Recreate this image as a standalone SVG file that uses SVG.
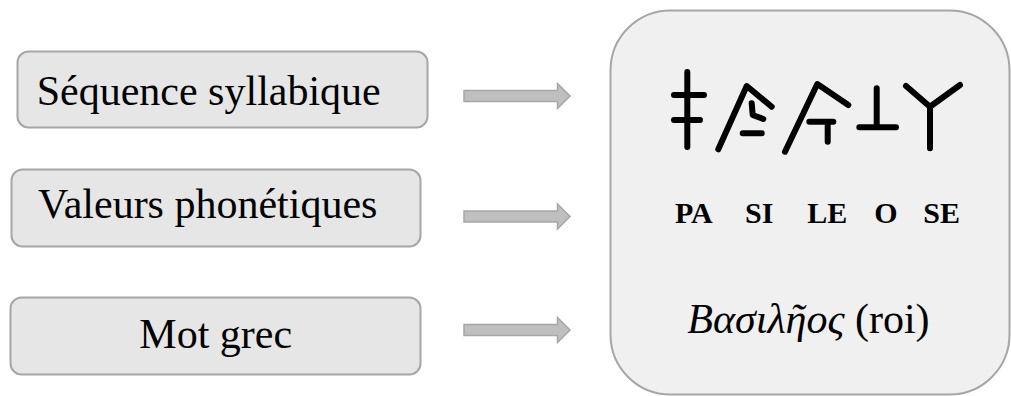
<svg xmlns="http://www.w3.org/2000/svg" width="1011" height="396" viewBox="0 0 1011 396">
<defs>
<style>
.box{fill:#e6e6e6;stroke:#a6a6a6;stroke-width:2}
.big{fill:#f0f0f0;stroke:#a6a6a6;stroke-width:2}
.lbl{font-family:"Liberation Serif","Times New Roman","DejaVu Serif",serif;font-size:42px;fill:#000}
.syl{font-family:"Liberation Serif","Times New Roman","DejaVu Serif",serif;font-size:30px;font-weight:bold;fill:#000}
.gr{font-family:"Liberation Serif","Times New Roman","DejaVu Serif",serif;font-size:42px;fill:#000}
.arr{fill:#bfbfbf;stroke:#a6a6a6;stroke-width:1.5}
.sign{fill:none;stroke:#000;stroke-width:6;stroke-linecap:round;stroke-linejoin:round}
</style>
<path id="arrow" d="M0,-5.5 H93.5 V-12.5 L106,0 L93.5,12.5 V5.5 H0 Z"/>
</defs>
<rect width="1011" height="396" fill="#fff"/>
<g id="node-sequence">
<rect class="box" x="17.5" y="51.5" width="410" height="76" rx="11"/>
<text class="lbl" x="36.7" y="105">Séquence syllabique</text>
</g>
<g id="node-valeurs">
<rect class="box" x="11.5" y="169.5" width="409" height="77" rx="11"/>
<text class="lbl" x="38" y="217.7">Valeurs phonétiques</text>
</g>
<g id="node-mot">
<rect class="box" x="10.5" y="297.5" width="410" height="77" rx="11"/>
<text class="lbl" x="139.3" y="348">Mot grec</text>
</g>
<g id="node-example">
<rect class="big" x="610.5" y="10.5" width="399" height="384" rx="60"/>
<g id="signs" class="sign">
<path d="M687.3,72 V147 M674,95 H704 M674,120 H700"/>
<path d="M718.3,149.3 L746.7,86 L771.7,106.7 M751.7,103.3 L752.7,115 L763.3,119 M742.7,133.3 H761.7"/>
<path d="M785,151.7 L817.3,84 L848.3,105 M809.3,121.7 H833.3 M827.7,121.7 V141.7"/>
<path d="M876.7,88.3 V127 M859.3,127.3 H896"/>
<path d="M906,86 L930,106.7 L960,85 M930,106.7 V148.3"/>
</g>
<text class="syl" x="675" y="222.5">PA</text>
<text class="syl" x="745" y="222.5">SI</text>
<text class="syl" x="807.3" y="222.5">LE</text>
<text class="syl" x="874.3" y="222.5">O</text>
<text class="syl" x="923.3" y="222.5">SE</text>
<text class="gr" x="687.3" y="333"><tspan font-style="italic">Βασιλῆος</tspan> (roi)</text>
</g>
<g id="connectors">
<use href="#arrow" class="arr" x="464" y="96"/>
<use href="#arrow" class="arr" x="464" y="216.5"/>
<use href="#arrow" class="arr" x="464" y="330"/>
</g>
</svg>
